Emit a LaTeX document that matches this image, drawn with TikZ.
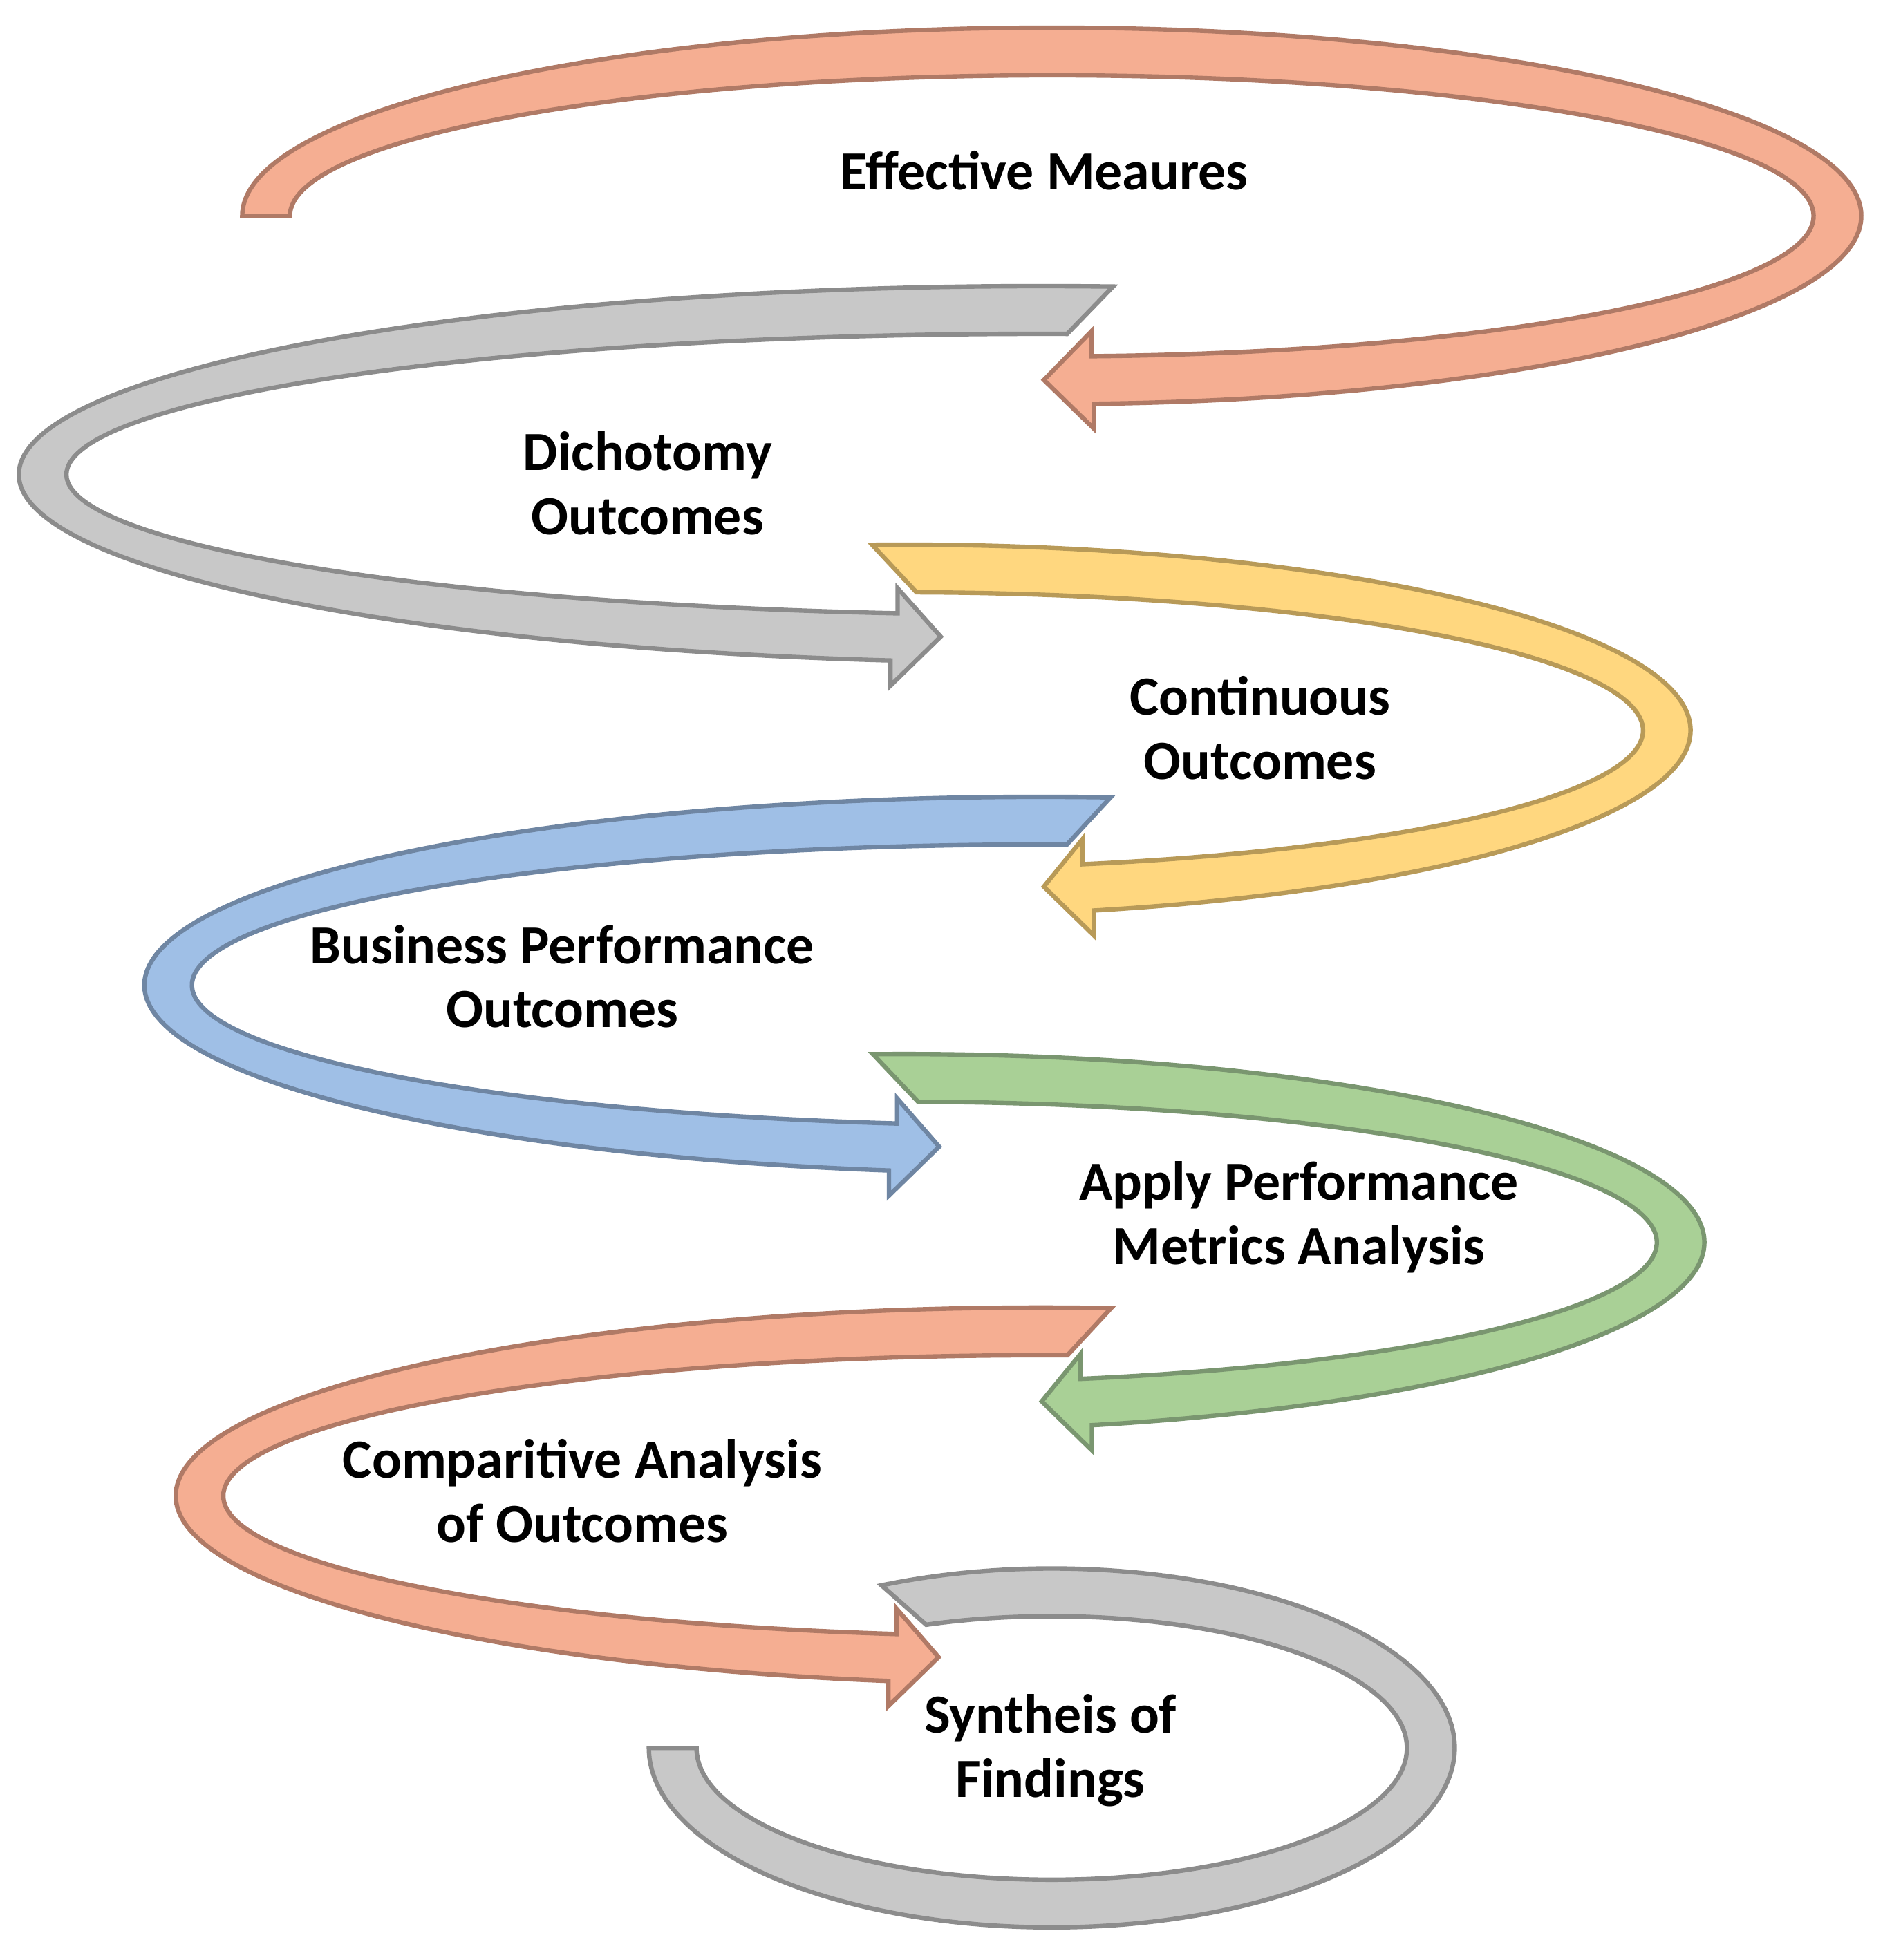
\documentclass[tikz,border=0pt]{standalone}
\usepackage{fontspec}
\setmainfont{Carlito}
\usetikzlibrary{calc}
\definecolor{salmon}{HTML}{F5AE92}
\definecolor{salmonD}{HTML}{B07A66}
\definecolor{grayF}{HTML}{C8C8C8}
\definecolor{grayD}{HTML}{8C8C8C}
\definecolor{yellowF}{HTML}{FFD77F}
\definecolor{yellowD}{HTML}{B89A58}
\definecolor{blueF}{HTML}{9FBFE6}
\definecolor{blueD}{HTML}{6F86A3}
\definecolor{greenF}{HTML}{A9D096}
\definecolor{greenD}{HTML}{7A9670}
% #1 style, #2 cx, #3 cy, #4 rx outer, #5 ry outer, #6 outer start angle, #7 inner start angle, #8 end angle, #9 head direction (+1 right, -1 left)
\newcommand\arrowband[9]{%
  \path[#1] ($(#2,#3)+(#6:#4 and #5)$)
    arc[start angle=#6,end angle=#8,x radius=#4,y radius=#5] coordinate (o)
    -- ++(0,20) -- ($(o)+(#9*40,-19)$)
    -- ($(#2,#3)+(#8:{#4-38} and {#5-38})+(0,-20)$)
    -- ($(#2,#3)+(#8:{#4-38} and {#5-38})$)
    arc[start angle=#8,end angle=#7,x radius=#4-38,y radius=#5-38] -- cycle;}
\begin{document}
\begin{tikzpicture}[x=0.01cm,y=-0.01cm,line width=1pt,line join=miter,
  lbl/.style={font=\fontsize{12.5}{14.5}\selectfont\bfseries,align=center,text=black}]
\useasboundingbox[fill=white] (0,0) rectangle (1500,1562);
\arrowband{fill=salmon,draw=salmonD}{838}{172}{645}{150}{180}{180}{447}{-1}
\arrowband{fill=grayF,draw=grayD}{830}{378}{815}{150}{-86}{-88.5}{-261.5}{1}
\arrowband{fill=yellowF,draw=yellowD}{720}{582}{627}{148}{-92.3}{-89}{76}{-1}
\arrowband{fill=blueF,draw=blueD}{830}{785}{715}{150}{-85.6}{-88.3}{-260.2}{1}
\arrowband{fill=greenF,draw=greenD}{720}{990}{638}{150}{-92.2}{-88.9}{76.4}{-1}
\arrowband{fill=salmon,draw=salmonD}{830}{1192}{690}{150}{-85.4}{-88.2}{-259.8}{1}
\path[fill=grayF,draw=grayD] ($(838,1393)+(-115:321 and 143)$)
  arc[start angle=-115,end angle=180,x radius=321,y radius=143]
  -- ($(838,1393)+(180:283 and 105)$)
  arc[start angle=180,end angle=-110.7,x radius=283,y radius=105] -- cycle;
\node[lbl] (t1) at (832,136) {Effective Meaures};
\node[lbl] (t2) at (516,385) {Dichotomy\\Outcomes};
\node[lbl] (t3) at (1004,580) {Continuous\\Outcomes};
\node[lbl] (t4) at (448,778) {Business Performance\\Outcomes};
\node[lbl] (t5) at (1035,970) {Apply Performance\\Metrics Analysis};
\node[lbl] (t6) at (464,1188) {Comparitive Analysis\\of Outcomes};
\node[lbl] (t7) at (837,1395) {Syntheis of\\Findings};
\end{tikzpicture}
\end{document}
